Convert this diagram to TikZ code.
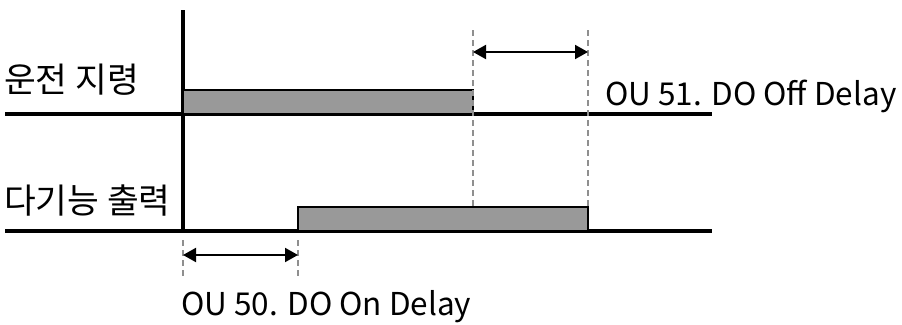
\documentclass[tikz,border=0pt]{standalone}
\usepackage{fontspec}
\setmainfont{Noto Sans CJK KR}
\usepackage{tikz}
\usetikzlibrary{arrows.meta,positioning,calc}
\definecolor{barfill}{HTML}{999999}
\definecolor{guide}{HTML}{8F8F8F}
\tikzset{
  sig/.style={line width=3.5pt, draw=black},
  base/.style={line width=3.2pt, draw=black},
  bar/.style={draw=black, line width=1.6pt, fill=barfill},
  gd/.style={draw=guide, line width=2pt, dash pattern=on 6pt off 4pt},
  ar/.style={{Triangle[length=13pt,width=14pt]}-{Triangle[length=13pt,width=14pt]},
             line width=2pt, draw=black},
  lbl/.style={font=\fontsize{34.5}{38}\selectfont, inner sep=0pt},
  tag/.style={font=\fontsize{31.5}{35}\selectfont, inner sep=0pt},
}
\begin{document}
\begin{tikzpicture}[x=1pt,y=-1pt]
  \useasboundingbox (0,0) rectangle (902,324);
  % 시간축과 기준선
  \coordinate (ax0) at (183,10);
  \coordinate (ax1) at (183,232);
  \coordinate (b1l) at (5,114);
  \coordinate (b1r) at (712,114);
  \coordinate (b2l) at (5,231);
  \coordinate (b2r) at (712,231);
  \draw[base] (b1l) -- (b1r);
  \draw[base] (b2l) -- (b2r);
  \draw[sig] (ax0) -- (ax1);

  % 신호 펄스
  \coordinate (run0) at (183,90);
  \coordinate (run1) at (473,114);
  \coordinate (out0) at (298,207);
  \coordinate (out1) at (588,231);
  \filldraw[bar] (run0) rectangle (run1);
  \filldraw[bar] (out0) rectangle (out1);

  % 지연 구간 보조선
  \coordinate (offa) at (473,30);
  \coordinate (offb) at (588,30);
  \draw[gd] (offa) -- (run1 |- out0);
  \draw[gd] (offb) -- (out1 |- out0);
  \coordinate (ona) at (183,240);
  \coordinate (onb) at (298,240);
  \draw[gd] (ona) -- ++(0,37);
  \draw[gd] (onb) -- ++(0,37);

  \coordinate (offl) at (473,52);
  \coordinate (offr) at (588,52);
  \draw[ar] (offl) -- (offr);
  \coordinate (onl) at (183,255);
  \coordinate (onr) at (298,255);
  \draw[ar] (onl) -- (onr);

  % 라벨
  \node[lbl, anchor=west] (runlbl) at (4,80) {운전 지령};
  \node[lbl, anchor=west] (outlbl) at (4,201) {다기능 출력};
  \node[tag, anchor=base west] (offlbl) at (605,105) {OU 51. DO Off Delay};
  \node[tag, anchor=base west] (onlbl) at (181,315) {OU 50. DO On Delay};
\end{tikzpicture}
\end{document}
